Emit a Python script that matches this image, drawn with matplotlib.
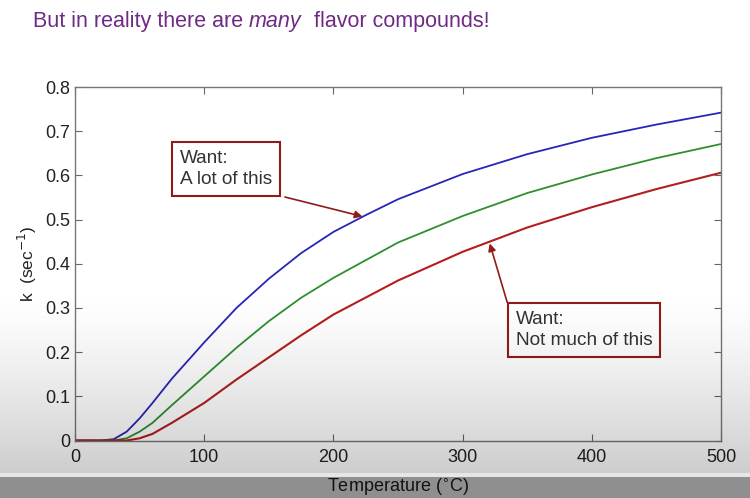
import matplotlib.pyplot as plt
import numpy as np

# temperature (C) and rate constants k (1/s)
temp_blue = [0, 20, 30, 40, 50, 60, 75, 100, 125, 150, 175, 200, 225, 250, 300, 350, 400, 450, 500]
k_blue = [0, 0, 0.003, 0.02, 0.05, 0.085, 0.14, 0.222, 0.30, 0.366, 0.424, 0.472, 0.51, 0.546, 0.603, 0.648, 0.685, 0.715, 0.742]

temp_green = [0, 30, 40, 50, 60, 75, 100, 125, 150, 175, 200, 250, 300, 350, 400, 450, 500]
k_green = [0, 0, 0.005, 0.02, 0.04, 0.08, 0.145, 0.21, 0.27, 0.323, 0.368, 0.448, 0.508, 0.56, 0.602, 0.639, 0.671]

temp_red = [0, 40, 50, 60, 75, 100, 125, 150, 175, 200, 250, 300, 350, 400, 450, 500]
k_red = [0, 0, 0.005, 0.015, 0.04, 0.085, 0.138, 0.188, 0.238, 0.285, 0.362, 0.427, 0.482, 0.528, 0.569, 0.606]

x_ticks = [0, 100, 200, 300, 400, 500]
y_ticks = [0, 0.1, 0.2, 0.3, 0.4, 0.5, 0.6, 0.7, 0.8]
y_ticklabels = ['0', '0.1', '0.2', '0.3', '0.4', '0.5', '0.6', '0.7', '0.8']

plt.rcParams['font.family'] = ['Liberation Sans', 'DejaVu Sans']

W, H = 750, 498
fig = plt.figure(figsize=(W / 100, H / 100), dpi=100)
ax = fig.add_axes([75 / W, 57.5 / H, 646 / W, 353.5 / H])

ax.plot(temp_blue, k_blue, color='#2626b8', lw=1.3)
ax.plot(temp_green, k_green, color='#2f8f2f', lw=1.3)
ax.plot(temp_red, k_red, color='#b31e1e', lw=1.5)

ax.set_xlim(0, 500)
ax.set_ylim(0, 0.8)
ax.set_xticks(x_ticks)
ax.set_yticks(y_ticks)
ax.set_yticklabels(y_ticklabels)
ax.tick_params(direction='in', top=True, right=True, length=5, labelsize=13,
               color='#666666', labelcolor='#222222')
ax.tick_params(axis='x', pad=6)
for s in ax.spines.values():
    s.set_color('#777777')
    s.set_linewidth(1.0)

ax.set_xlabel('Temperature ($^{\\circ}$C)', fontsize=13, color='#222222', labelpad=8)
ax.set_ylabel('k  (sec$^{-1}$)', fontsize=12.5, color='#222222', labelpad=4)

# title: plain / italic / plain, placed one after another
purple = '#6f2b84'
title_y = 1 - 27 / H
parts = [('But in reality there are ', 'normal'), ('many', 'italic'), ('  flavor compounds!', 'normal')]
x = 33 / W
fig.canvas.draw()
renderer = fig.canvas.get_renderer()
for txt, st in parts:
    t = fig.text(x, title_y, txt, fontsize=15.5, color=purple, style=st, va='baseline')
    bb = t.get_window_extent(renderer=renderer)
    x = bb.x1 / W

box = dict(boxstyle='square,pad=0.42', fc='white', ec='#8e1c1c', lw=1.5)
arrow = dict(arrowstyle='-|>', color='#8e1c1c', lw=1.2, mutation_scale=11,
             shrinkA=0, shrinkB=0)

ax.text(81.5, 0.657, 'Want:\nA lot of this', fontsize=13.7, color='#333333',
        va='top', ha='left', bbox=box, linespacing=1.32)
ax.annotate('', xy=(222.5, 0.507), xytext=(162.5, 0.551), arrowprops=arrow)

ax.text(341, 0.294, 'Want:\nNot much of this', fontsize=13.7, color='#333333',
        va='top', ha='left', bbox=box, linespacing=1.32)
ax.annotate('', xy=(321, 0.446), xytext=(334.5, 0.313), arrowprops=arrow)

# video-style grey fade at the bottom of the slide
ov = fig.add_axes([0, 0, 1, 1], zorder=10)
ov.axis('off')
rows = np.arange(H)
alpha = np.zeros(H)
fade = (rows >= 290) & (rows < 473)
alpha[fade] = 0.2 * ((rows[fade] - 290) / 183.0) ** 1.3
alpha[(rows >= 473) & (rows < 477)] = 0.1
alpha[rows >= 477] = 0.44
img = np.zeros((H, 1, 4))
img[:, 0, 3] = alpha
ov.imshow(img, aspect='auto', extent=[0, 1, 0, 1])

fig.savefig('out.png', dpi=100)
